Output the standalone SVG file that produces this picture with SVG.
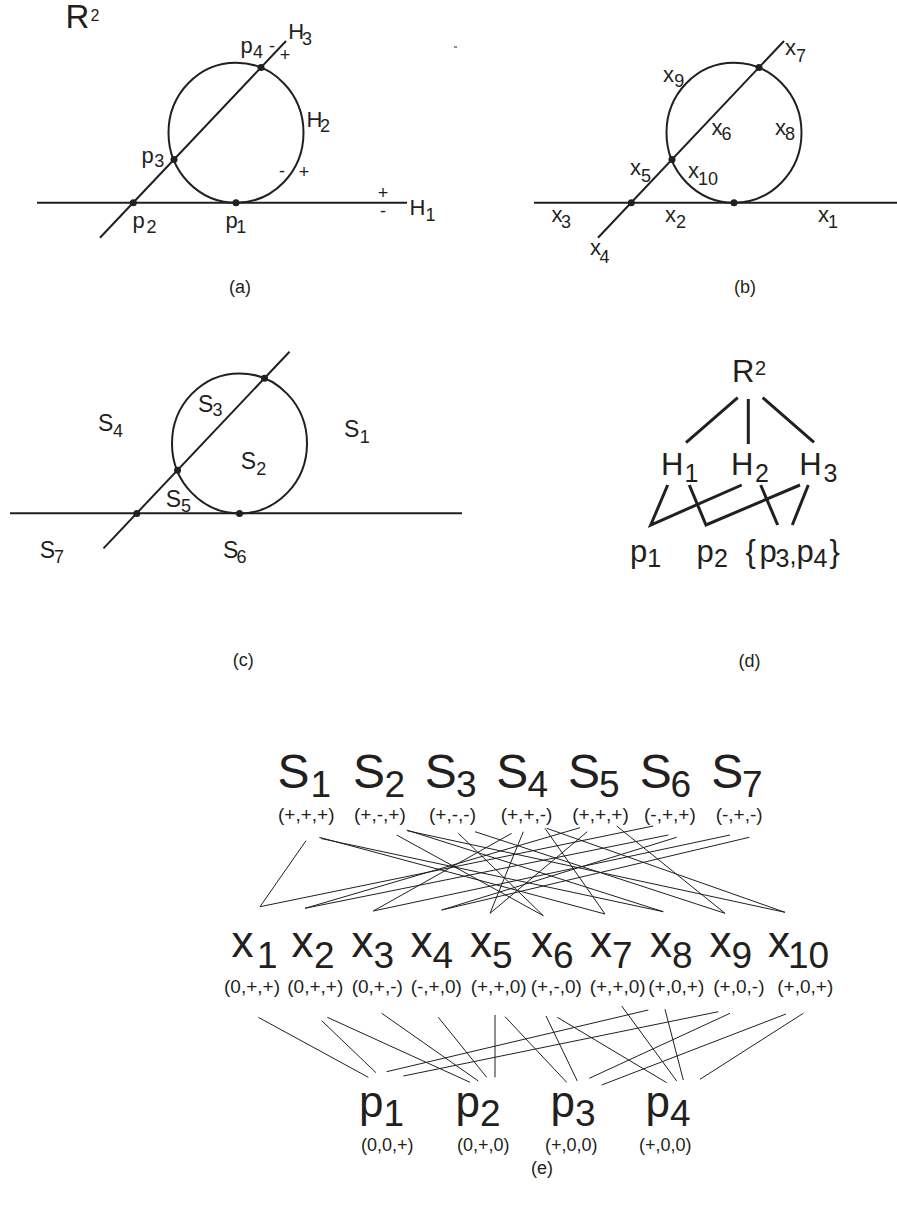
<svg xmlns="http://www.w3.org/2000/svg" width="897" height="1205" viewBox="0 0 897 1205">
<style>
text{font-family:"Liberation Sans",Arial,Helvetica,sans-serif;fill:#231f20}
.geo{fill:none;stroke:#231f20;stroke-width:2}
.dot{fill:#231f20}
.m{font-size:22px}
.s{font-size:18px}
.c{font-size:23px}
.pm{font-size:18px}
.cap{font-size:18px;text-anchor:middle}
.dm{font-size:31px}
.ds{font-size:25px}
.big{font-size:48px}
.xb{font-size:44px}
.bs{font-size:37px}
.tp{font-size:19px}
.tq{font-size:18px}
.dl{stroke:#231f20;stroke-width:3;fill:none}
.el{stroke:#231f20;stroke-width:1;fill:none}
</style>
<defs>
<g id="arr">
<ellipse class="geo" cx="236" cy="132.7" rx="67.5" ry="70"/>
<line class="geo" x1="100" y1="237.7" x2="286" y2="41"/>
<circle class="dot" cx="236" cy="202.7" r="3.5"/>
<circle class="dot" cx="133.3" cy="202.7" r="3.5"/>
<circle class="dot" cx="174" cy="159.5" r="3.5"/>
<circle class="dot" cx="261" cy="67.5" r="3.5"/>
</g>
</defs>
<rect width="897" height="1205" fill="#fff"/>

<!-- Panel (a) -->
<g id="panel-a">
<line class="geo" x1="37" y1="202.7" x2="407" y2="202.7"/>
<use href="#arr"/>
<text x="65.5" y="28" font-size="33">R<tspan x="90.5" y="21" font-size="16">2</tspan></text>
<text class="m" x="288.3" y="39">H<tspan class="s" x="302" y="45">3</tspan></text>
<text class="m" x="240.6" y="53">p<tspan class="s" x="253" y="58.3">4</tspan></text>
<text class="pm" x="272" y="52" text-anchor="middle">-</text>
<text class="pm" x="285" y="61" text-anchor="middle">+</text>
<text class="m" x="306.5" y="127">H<tspan class="s" x="320" y="132">2</tspan></text>
<text class="m" x="141.6" y="163">p<tspan class="s" x="154.3" y="166.7">3</tspan></text>
<text class="pm" x="282" y="177" text-anchor="middle">-</text>
<text class="pm" x="304" y="178" text-anchor="middle">+</text>
<text class="pm" x="383" y="199" text-anchor="middle">+</text>
<text class="pm" x="383" y="217" text-anchor="middle">-</text>
<text class="m" x="409.5" y="215">H<tspan class="s" x="425.5" y="221">1</tspan></text>
<text class="m" x="132.6" y="228.3">p<tspan class="s" x="146.5" y="233">2</tspan></text>
<text class="m" x="225.6" y="228.3">p<tspan class="s" x="236.3" y="233">1</tspan></text>
<text class="cap" x="240" y="293">(a)</text>
</g>

<!-- Panel (b) -->
<g id="panel-b">
<rect x="454" y="46.5" width="3" height="1" fill="#231f20"/>
<line class="geo" x1="534" y1="202.7" x2="897" y2="202.7"/>
<use href="#arr" transform="translate(498,0)"/>
<text class="m" x="785" y="55">x<tspan class="s" x="796" y="62">7</tspan></text>
<text class="m" x="663" y="82">x<tspan class="s" x="674.3" y="86.7">9</tspan></text>
<text class="m" x="711.5" y="135">x<tspan class="s" x="721.5" y="140">6</tspan></text>
<text class="m" x="775" y="135">x<tspan class="s" x="785" y="140">8</tspan></text>
<text class="m" x="630" y="175">x<tspan class="s" x="641" y="181.7">5</tspan></text>
<text class="m" x="688" y="178.3">x<tspan class="s" x="698" y="185">10</tspan></text>
<text class="m" x="551.5" y="221.7">x<tspan class="s" x="561" y="228">3</tspan></text>
<text class="m" x="665" y="221.7">x<tspan class="s" x="676" y="228">2</tspan></text>
<text class="m" x="818" y="221.7">x<tspan class="s" x="828" y="228">1</tspan></text>
<text class="m" x="590" y="255">x<tspan class="s" x="599.5" y="263">4</tspan></text>
<text class="cap" x="745" y="293">(b)</text>
</g>

<!-- Panel (c) -->
<g id="panel-c">
<line class="geo" x1="10" y1="513.3" x2="462" y2="513.3"/>
<use href="#arr" transform="translate(3.5,310.7)"/>
<text class="c" x="198" y="411.7">S<tspan class="s" x="212.6" y="416">3</tspan></text>
<text class="c" x="98" y="431">S<tspan class="s" x="113" y="436.7">4</tspan></text>
<text class="c" x="344" y="437">S<tspan class="s" x="359.7" y="443">1</tspan></text>
<text class="c" x="240.7" y="469">S<tspan class="s" x="256.2" y="475">2</tspan></text>
<text class="c" x="165.7" y="506.7">S<tspan class="s" x="181" y="511.7">5</tspan></text>
<text class="c" x="39.7" y="558">S<tspan class="s" x="54" y="563">7</tspan></text>
<text class="c" x="223" y="558">S<tspan class="s" x="236.6" y="563">6</tspan></text>
<text class="cap" x="243.3" y="666">(c)</text>
</g>

<!-- Panel (d) -->
<g id="panel-d">
<g id="d-connectors">
<line class="dl" x1="737.7" y1="397.7" x2="686" y2="442.7"/>
<line class="dl" x1="748.3" y1="399" x2="748.3" y2="444"/>
<line class="dl" x1="762.7" y1="397.7" x2="814" y2="442.3"/>
<polyline class="dl" points="667.7,485 650.7,525 741.7,485"/>
<polyline class="dl" points="689.3,485 706,525 800,485"/>
<line class="dl" x1="760.7" y1="485" x2="777.7" y2="525"/>
<line class="dl" x1="808.3" y1="485" x2="792.3" y2="525"/>
</g>
<g id="d-R2"><text class="dm" x="731.9" y="382.3">R<tspan x="755" y="375.3" font-size="20">2</tspan></text></g>
<g id="d-H1"><text class="dm" x="660.9" y="475">H<tspan class="ds" x="684.5" y="481.7">1</tspan></text></g>
<g id="d-H2"><text class="dm" x="730.9" y="475">H<tspan class="ds" x="755" y="481.7">2</tspan></text></g>
<g id="d-H3"><text class="dm" x="799.3" y="475">H<tspan class="ds" x="823.5" y="481.7">3</tspan></text></g>
<g id="d-p1"><text class="dm" x="630" y="562.3">p<tspan class="ds" x="647.3" y="566.7">1</tspan></text></g>
<g id="d-p2"><text class="dm" x="696.6" y="562.3">p<tspan class="ds" x="714" y="566.7">2</tspan></text></g>
<g id="d-p34"><text class="dm" x="745.5" y="562.3">{<tspan x="759.5" y="562.3">p</tspan><tspan class="ds" x="775.5" y="566.7">3</tspan><tspan class="ds" x="789.5" y="564">,</tspan><tspan x="796.5" y="562.3">p</tspan><tspan class="ds" x="813.5" y="566.7">4</tspan><tspan x="829.5" y="562.3">}</tspan></text></g>
<text class="cap" x="749.5" y="666.7">(d)</text>
</g>

<!-- Panel (e) -->
<g id="panel-e">
<g id="e-connectors">
<line class="el" x1="306" y1="840.7" x2="260" y2="906.7"/>
<line class="el" x1="319.3" y1="837.3" x2="605" y2="914"/>
<line class="el" x1="321" y1="838.5" x2="663.3" y2="911.7"/>
<line class="el" x1="396.7" y1="835" x2="543.3" y2="915.7"/>
<line class="el" x1="406.7" y1="830" x2="663.3" y2="911.7"/>
<line class="el" x1="407.5" y1="830.8" x2="785" y2="912.3"/>
<line class="el" x1="458.3" y1="833.3" x2="543.3" y2="915.7"/>
<line class="el" x1="475" y1="831.7" x2="725" y2="913.3"/>
<line class="el" x1="511.7" y1="833.3" x2="373.3" y2="911"/>
<line class="el" x1="523.3" y1="831.7" x2="490" y2="913.3"/>
<line class="el" x1="545" y1="828.3" x2="605" y2="914"/>
<line class="el" x1="546.7" y1="828.3" x2="785" y2="912.3"/>
<line class="el" x1="580" y1="827.7" x2="305" y2="908.3"/>
<line class="el" x1="587.3" y1="831.7" x2="490" y2="913.3"/>
<line class="el" x1="616.7" y1="826" x2="725" y2="913.3"/>
<line class="el" x1="653.3" y1="826" x2="260" y2="906.7"/>
<line class="el" x1="668.3" y1="835" x2="305" y2="908.3"/>
<line class="el" x1="676.7" y1="837.3" x2="441.7" y2="910"/>
<line class="el" x1="730" y1="835" x2="373.3" y2="911"/>
<line class="el" x1="749.3" y1="837.3" x2="441.7" y2="910"/>

<line class="el" x1="258.3" y1="1017.3" x2="368.3" y2="1077.3"/>
<line class="el" x1="321.7" y1="1020.7" x2="376" y2="1072.7"/>
<line class="el" x1="327.3" y1="1017.3" x2="470" y2="1082.3"/>
<line class="el" x1="381.7" y1="1013.3" x2="478.3" y2="1081"/>
<line class="el" x1="438.3" y1="1017.3" x2="486.7" y2="1077.3"/>
<line class="el" x1="495" y1="1015" x2="495" y2="1077.3"/>
<line class="el" x1="505" y1="1016.7" x2="566.7" y2="1082.3"/>
<line class="el" x1="546" y1="1016" x2="577.3" y2="1081"/>
<line class="el" x1="557.3" y1="1017.3" x2="666.7" y2="1082.7"/>
<line class="el" x1="621.7" y1="1006" x2="676.7" y2="1081"/>
<line class="el" x1="648.3" y1="1010" x2="386.7" y2="1071.7"/>
<line class="el" x1="665" y1="1009.3" x2="683.3" y2="1080"/>
<line class="el" x1="718.3" y1="1011.7" x2="403.3" y2="1076"/>
<line class="el" x1="730" y1="1013.3" x2="589.3" y2="1078.3"/>
<line class="el" x1="786" y1="1014" x2="601.7" y2="1085"/>
<line class="el" x1="803.3" y1="1013.3" x2="700" y2="1079.3"/>
</g>

<g id="e-S1"><text class="big" x="277.5" y="788.3">S<tspan class="bs" x="310.5" y="796.7">1</tspan></text><text class="tp" x="278" y="821">(+,+,+)</text></g>
<g id="e-S2"><text class="big" x="353" y="788.3">S<tspan class="bs" x="384.5" y="796.7">2</tspan></text><text class="tp" x="354" y="821">(+,-,+)</text></g>
<g id="e-S3"><text class="big" x="424.7" y="788.3">S<tspan class="bs" x="456" y="796.7">3</tspan></text><text class="tp" x="429" y="821">(+,-,-)</text></g>
<g id="e-S4"><text class="big" x="496.3" y="788.3">S<tspan class="bs" x="527.5" y="796.7">4</tspan></text><text class="tp" x="500.7" y="821">(+,+,-)</text></g>
<g id="e-S5"><text class="big" x="568" y="788.3">S<tspan class="bs" x="599" y="796.7">5</tspan></text><text class="tp" x="572.3" y="821">(+,+,+)</text></g>
<g id="e-S6"><text class="big" x="639.7" y="788.3">S<tspan class="bs" x="670.5" y="796.7">6</tspan></text><text class="tp" x="644" y="821">(-,+,+)</text></g>
<g id="e-S7"><text class="big" x="711.3" y="788.3">S<tspan class="bs" x="742" y="796.7">7</tspan></text><text class="tp" x="715.7" y="821">(-,+,-)</text></g>

<g id="e-x1"><text class="xb" x="231.5" y="956.7">x<tspan class="bs" x="257" y="968.3">1</tspan></text><text class="tp" x="224" y="992.5">(0,+,+)</text></g>
<g id="e-x2"><text class="xb" x="291.5" y="956.7">x<tspan class="bs" x="314" y="968.3">2</tspan></text><text class="tp" x="287.3" y="992.5">(0,+,+)</text></g>
<g id="e-x3"><text class="xb" x="351.5" y="956.7">x<tspan class="bs" x="373.5" y="968.3">3</tspan></text><text class="tp" x="351.7" y="992.5">(0,+,-)</text></g>
<g id="e-x4"><text class="xb" x="410.5" y="956.7">x<tspan class="bs" x="432.5" y="968.3">4</tspan></text><text class="tp" x="410.7" y="992.5">(-,+,0)</text></g>
<g id="e-x5"><text class="xb" x="470" y="956.7">x<tspan class="bs" x="492" y="968.3">5</tspan></text><text class="tp" x="470.7" y="992.5">(+,+,0)</text></g>
<g id="e-x6"><text class="xb" x="531" y="956.7">x<tspan class="bs" x="553" y="968.3">6</tspan></text><text class="tp" x="530.7" y="992.5">(+,-,0)</text></g>
<g id="e-x7"><text class="xb" x="590" y="956.7">x<tspan class="bs" x="612" y="968.3">7</tspan></text><text class="tp" x="589.7" y="992.5">(+,+,0)</text></g>
<g id="e-x8"><text class="xb" x="650" y="956.7">x<tspan class="bs" x="672" y="968.3">8</tspan></text><text class="tp" x="648.3" y="992.5">(+,0,+)</text></g>
<g id="e-x9"><text class="xb" x="709.5" y="956.7">x<tspan class="bs" x="731.5" y="968.3">9</tspan></text><text class="tp" x="713.3" y="992.5">(+,0,-)</text></g>
<g id="e-x10"><text class="xb" x="768" y="956.7">x<tspan class="bs" x="788" y="968.3">10</tspan></text><text class="tp" x="777.3" y="992.5">(+,0,+)</text></g>

<g id="e-p1"><text class="xb" x="359" y="1117">p<tspan class="bs" x="383.5" y="1126">1</tspan></text><text class="tq" x="361" y="1151">(0,0,+)</text></g>
<g id="e-p2"><text class="xb" x="455.5" y="1117">p<tspan class="bs" x="480" y="1126">2</tspan></text><text class="tq" x="457" y="1151">(0,+,0)</text></g>
<g id="e-p3"><text class="xb" x="550.5" y="1117">p<tspan class="bs" x="575" y="1126">3</tspan></text><text class="tq" x="545" y="1151">(+,0,0)</text></g>
<g id="e-p4"><text class="xb" x="645.5" y="1117">p<tspan class="bs" x="670" y="1126">4</tspan></text><text class="tq" x="639" y="1151">(+,0,0)</text></g>
<text class="cap" x="542" y="1174">(e)</text>
</g>
</svg>
